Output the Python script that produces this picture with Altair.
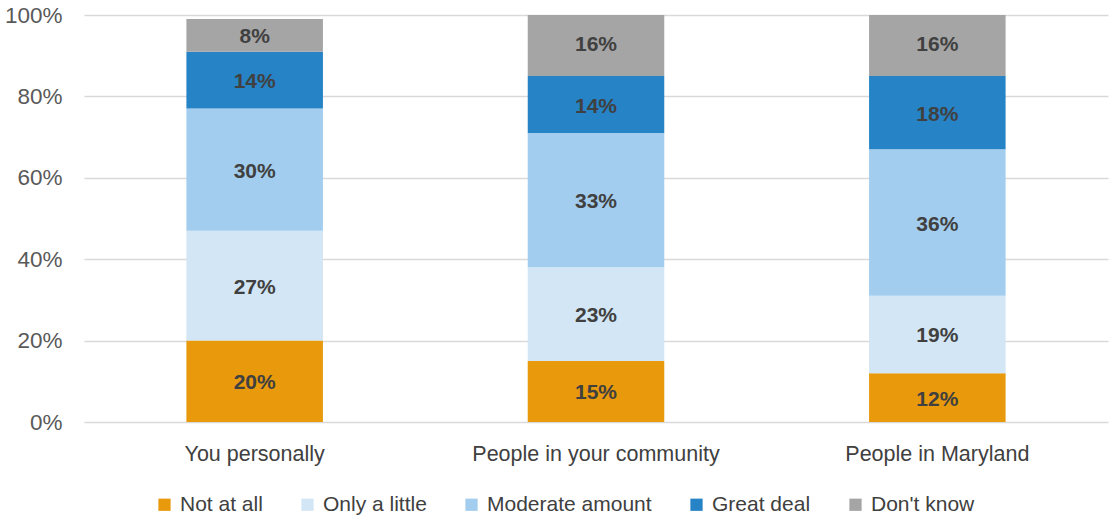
import altair as alt
import pandas as pd

categories = ["You personally", "People in your community", "People in Maryland"]
responses = ["Not at all", "Only a little", "Moderate amount", "Great deal", "Don't know"]
colors = ["#E8990C", "#D2E6F5", "#A3CDEE", "#2683C6", "#A5A5A5"]

values = {
    "You personally": [0.20, 0.27, 0.30, 0.14, 0.08],
    "People in your community": [0.15, 0.23, 0.33, 0.14, 0.16],
    "People in Maryland": [0.12, 0.19, 0.36, 0.18, 0.16],
}

rows = []
for c in categories:
    for i, r in enumerate(responses):
        rows.append({"cat": c, "resp": r, "idx": i, "value": values[c][i]})
df = pd.DataFrame(rows)

font = "Liberation Sans"

base = alt.Chart(df).transform_stack(
    stack="value", groupby=["cat"], as_=["y0", "y1"], sort=[alt.SortField("idx", "ascending")]
).transform_calculate(mid="(datum.y0 + datum.y1) / 2")

x = alt.X("cat:N", sort=categories, title=None,
          scale=alt.Scale(paddingInner=0.6, paddingOuter=0.3),
          axis=alt.Axis(labelAngle=0, domain=False, ticks=False, grid=False, labelPadding=21,
                        labelLimit=0, labelFont=font, labelFontSize=21.5, labelColor="#404040"))

bars = base.mark_bar(clip=True).encode(
    x=x,
    y=alt.Y("y0:Q", title=None,
            scale=alt.Scale(domain=[0, 1], nice=False),
            axis=alt.Axis(format=".0%", values=[0, 0.2, 0.4, 0.6, 0.8, 1.0], domain=False, ticks=False,
                          labelPadding=22, labelFont=font, labelFontSize=22.5,
                          labelColor="#595959", gridColor="#D9D9D9", gridWidth=1.5)),
    y2="y1:Q",
    color=alt.Color("resp:N", sort=responses,
                    scale=alt.Scale(domain=responses, range=colors),
                    legend=alt.Legend(title=None, orient="none", direction="horizontal",
                                      legendX=70, legendY=479, labelLimit=0,
                                      symbolType="square", symbolSize=150, symbolStrokeWidth=0,
                                      labelFont=font, labelFontSize=21, labelColor="#404040",
                                      columnPadding=34, labelOffset=5)),
    order=alt.Order("idx:Q"),
)

labels = base.mark_text(font=font, fontWeight="bold", fontSize=21, color="#404040", dy=2).encode(
    x=alt.X("cat:N", sort=categories),
    y=alt.Y("mid:Q"),
    text=alt.Text("value:Q", format=".0%"),
)

chart = alt.layer(bars, labels).properties(
    width=1024, height=407,
    padding={"left": 84, "top": 15, "right": 2, "bottom": 95},
    autosize=alt.AutoSizeParams(type="none"),
).configure(background="white").configure_view(stroke=None)

chart.save("out.html", embed_options={"renderer": "svg", "actions": False})
